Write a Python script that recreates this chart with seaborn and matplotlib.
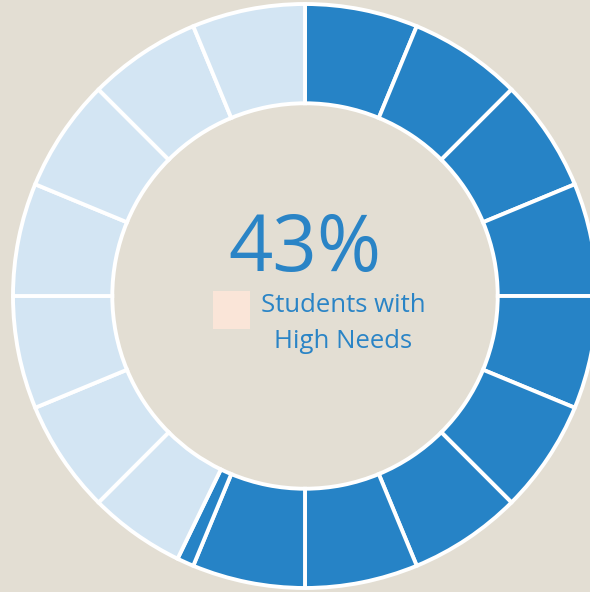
import matplotlib.pyplot as plt
import seaborn as sns

# ring segments, clockwise from 12 o'clock
segment_sizes = [1, 1, 1, 1, 1, 1, 1, 1, 1, 0.15, 0.85, 1, 1, 1, 1, 1, 1]
segment_groups = ["filled", "filled", "filled", "filled", "filled", "filled", "filled",
                  "filled", "filled", "filled", "empty", "empty", "empty", "empty",
                  "empty", "empty", "empty"]
center_value = "43%"
legend_label = "Students with\nHigh Needs"

bg_color = "#E3DED3"
palette = {"filled": "#2683C6", "empty": "#D3E5F3"}
text_blue = "#2A84C6"
legend_color = "#FAE5D8"

sns.set_theme(style="white")
plt.rcParams['font.family'] = ['Open Sans', 'DejaVu Sans']

fig = plt.figure(figsize=(5.9, 5.92), dpi=100)
fig.patch.set_facecolor(bg_color)
ax = fig.add_axes([0, 0, 1, 1])
ax.set_facecolor(bg_color)

colors = [palette[g] for g in segment_groups]
ax.pie(segment_sizes, colors=colors, startangle=90, counterclock=False,
       radius=1.0, wedgeprops=dict(width=0.34, edgecolor="white", linewidth=2.8))

# place the ring like the reference (center at ~305,296 px, radius ~292 px)
r_px = 292.0
ax.set_xlim(-305 / r_px, (590 - 305) / r_px)
ax.set_ylim(-(592 - 296) / r_px, 296 / r_px)
ax.set_aspect("equal")
ax.axis("off")

ax.text(0.0, (296 - 251) / r_px, center_value, ha="center", va="center",
        fontsize=56, color=text_blue)

ax.add_patch(plt.Rectangle(((213 - 305) / r_px, (296 - 329) / r_px),
                           37 / r_px, 38 / r_px, color=legend_color, lw=0))
ax.text((343 - 305) / r_px, (296 - 323.5) / r_px, legend_label, ha="center",
        va="center", fontsize=18.5, color=text_blue, linespacing=1.6)

fig.savefig("out.png", dpi=100, facecolor=bg_color)
